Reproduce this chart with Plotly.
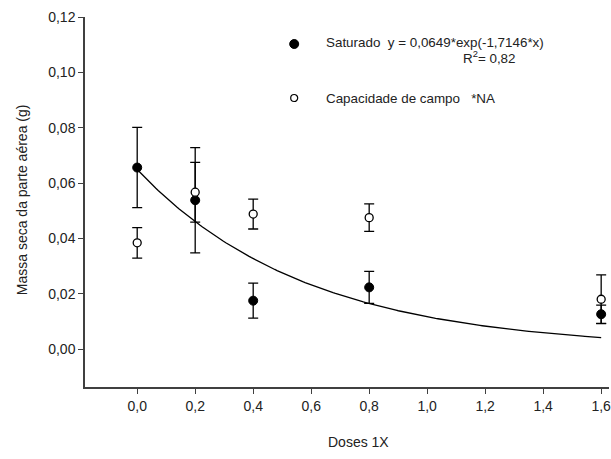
import plotly.graph_objects as go
import numpy as np

# Data
doses = [0.0, 0.2, 0.4, 0.8, 1.6]
saturado = [0.0656, 0.0538, 0.0175, 0.0223, 0.0126]
saturado_err = [0.0145, 0.0190, 0.0063, 0.0058, 0.0033]
capacidade = [0.0384, 0.0567, 0.0488, 0.0475, 0.0180]
capacidade_err = [0.0055, 0.0108, 0.0054, 0.0050, 0.0088]
fit_a = 0.0649
fit_b = -1.7146
x_ticks = [0.0, 0.2, 0.4, 0.6, 0.8, 1.0, 1.2, 1.4, 1.6]
x_tick_labels = ["0,0", "0,2", "0,4", "0,6", "0,8", "1,0", "1,2", "1,4", "1,6"]
y_ticks = [0.00, 0.02, 0.04, 0.06, 0.08, 0.10, 0.12]
y_tick_labels = ["0,00", "0,02", "0,04", "0,06", "0,08", "0,10", "0,12"]

FONT = "Arial, Liberation Sans, sans-serif"
TXT = "#222222"

fit_x = np.linspace(0, 1.6, 200)
fit_y = fit_a * np.exp(fit_b * fit_x)

fig = go.Figure()
fig.add_trace(go.Scatter(x=fit_x, y=fit_y, mode="lines",
                         line=dict(color="black", width=1.3), showlegend=False))
fig.add_trace(go.Scatter(
    x=doses, y=saturado, mode="markers",
    error_y=dict(type="data", array=saturado_err, color="black", thickness=1.3, width=5),
    marker=dict(symbol="circle", size=9, color="black", line=dict(color="black", width=1)),
    showlegend=False, cliponaxis=False))
fig.add_trace(go.Scatter(
    x=doses, y=capacidade, mode="markers",
    error_y=dict(type="data", array=capacidade_err, color="black", thickness=1.3, width=5),
    marker=dict(symbol="circle", size=8, color="white", line=dict(color="black", width=1.3)),
    showlegend=False, cliponaxis=False))

W, H = 611, 459
L, R, T = 85, 0, 17
B = H - 387
pw, ph = W - L - R, H - T - B

def px(xp):
    return (xp - L) / pw

def py(yp):
    return (H - B - yp) / ph

shapes = [
    dict(type="circle", xref="paper", yref="paper", xsizemode="pixel", ysizemode="pixel",
         xanchor=px(295), yanchor=py(44), x0=-4.5, x1=4.5, y0=-4.5, y1=4.5,
         fillcolor="black", line=dict(color="black", width=1)),
    dict(type="circle", xref="paper", yref="paper", xsizemode="pixel", ysizemode="pixel",
         xanchor=px(295), yanchor=py(98), x0=-3.5, x1=3.5, y0=-3.5, y1=3.5,
         fillcolor="white", line=dict(color="black", width=1.2)),
]

nb = "\u00a0"
annotations = [
    dict(text="Saturado" + nb * 2 + "y = 0,0649*exp(-1,7146*x)", xref="paper", yref="paper",
         x=px(325), y=py(43), xanchor="left", yanchor="middle", showarrow=False,
         font=dict(family=FONT, size=13.4, color=TXT)),
    dict(text="R<sup>2</sup>= 0,82", xref="paper", yref="paper",
         x=px(462), y=py(57), xanchor="left", yanchor="middle", showarrow=False,
         font=dict(family=FONT, size=13.4, color=TXT)),
    dict(text="Capacidade de campo" + nb * 3 + "*NA", xref="paper", yref="paper",
         x=px(325), y=py(98), xanchor="left", yanchor="middle", showarrow=False,
         font=dict(family=FONT, size=13.4, color=TXT)),
    dict(text="Doses 1X", xref="paper", yref="paper",
         x=px(360), y=py(442), xanchor="center", yanchor="middle", showarrow=False,
         font=dict(family=FONT, size=14, color=TXT)),
    dict(text="Massa seca da parte aérea (g)", xref="paper", yref="paper",
         x=px(22), y=py(200), xanchor="center", yanchor="middle", showarrow=False,
         textangle=-90, font=dict(family=FONT, size=14, color=TXT)),
]

fig.update_layout(
    width=W, height=H,
    margin=dict(l=L, r=R, t=T, b=B),
    paper_bgcolor="white", plot_bgcolor="white",
    shapes=shapes, annotations=annotations,
    font=dict(family=FONT, size=14, color=TXT),
)
fig.update_xaxes(range=[-0.18, 1.627], tickvals=x_ticks, ticktext=x_tick_labels,
                 showgrid=False, zeroline=False, showline=True, linecolor="#404040",
                 linewidth=1.5, ticks="outside", ticklen=5, tickwidth=1.2, tickcolor="#404040",
                 ticklabeloverflow="allow",
                 tickfont=dict(family=FONT, size=14, color=TXT))
fig.update_yaxes(range=[-0.0137, 0.12], tickvals=y_ticks, ticktext=y_tick_labels,
                 showgrid=False, zeroline=False, showline=True, linecolor="#404040",
                 linewidth=1.5, ticks="outside", ticklen=5, tickwidth=1.2, tickcolor="#404040",
                 tickfont=dict(family=FONT, size=14, color=TXT))

fig.write_html("out.html", config={"displayModeBar": False},
               post_script="document.body.style.margin='0';document.body.style.overflow='hidden';")
